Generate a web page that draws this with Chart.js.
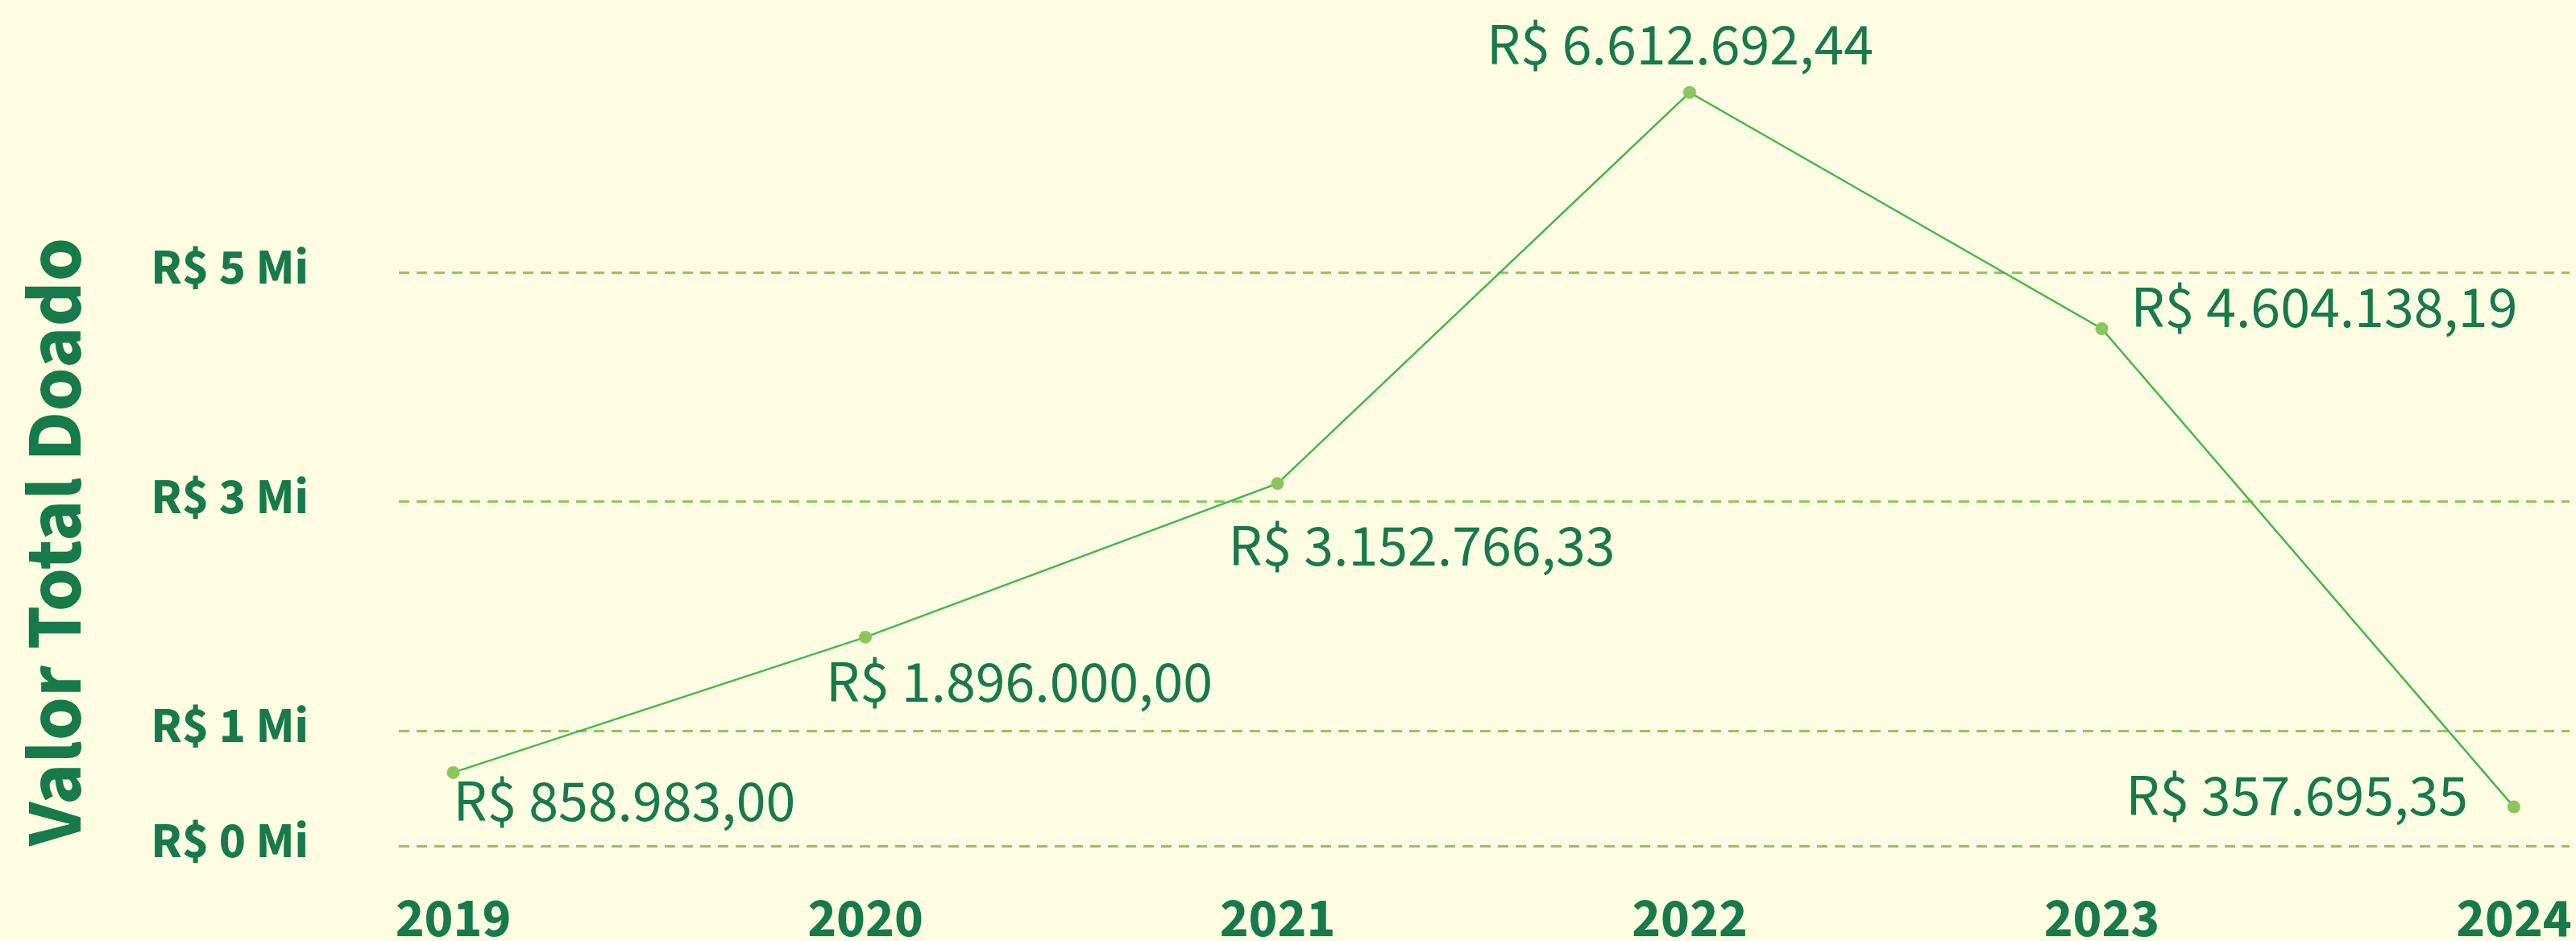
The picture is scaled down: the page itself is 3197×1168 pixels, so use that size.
<!DOCTYPE html>
<html lang="pt-BR">
<head>
<meta charset="utf-8">
<title>Valor Total Doado</title>
<script src="https://cdn.jsdelivr.net/npm/chart.js@4.4.1/dist/chart.umd.min.js"></script>
<style>
  html, body { margin: 0; padding: 0; background: #FEFDE4; }
  .chart-wrapper { width: 3197px; height: 1168px; position: relative; }
</style>
</head>
<body>
<div class="chart-wrapper"><canvas id="donationChart"></canvas></div>
<script>
"use strict";

// --- data ---
const years = [2019, 2020, 2021, 2022, 2023, 2024];
const donatedValues = [640000, 1820000, 3160000, 6570000, 4510000, 340000];
const valueLabels = [
    'R$ 858.983,00',
    'R$ 1.896.000,00',
    'R$ 3.152.766,33',
    'R$ 6.612.692,44',
    'R$ 4.604.138,19',
    'R$ 357.695,35'
];
const yTickValues = [0, 1000000, 3000000, 5000000];
const yTickLabels = ['R$ 0 Mi', 'R$ 1 Mi', 'R$ 3 Mi', 'R$ 5 Mi'];

// --- style ---
const FONT = "'Source Sans Pro', 'Source Sans 3', Lato, sans-serif";
const TEXT_COLOR = '#177A4B';
const LINE_COLOR = '#3DBB4B';
const POINT_COLOR = '#8BC65A';
const GRID_COLOR = '#8DC85C';

// where each value label sits relative to its point (px)
const labelPlacement = [
    { align: 'left', dx: 0, dy: 44 },
    { align: 'left', dx: -49, dy: 64 },
    { align: 'left', dx: -61, dy: 86 },
    { align: 'center', dx: -12, dy: -51 },
    { align: 'left', dx: 36, dy: -18 },
    { align: 'right', dx: -57, dy: -6 }
];

const valueLabelPlugin = {
    id: 'valueLabels',
    afterDatasetsDraw(chart) {
        const ctx = chart.ctx;
        const meta = chart.getDatasetMeta(0);
        ctx.save();
        ctx.font = `400 74px ${FONT}`;
        ctx.fillStyle = TEXT_COLOR;
        ctx.textBaseline = 'middle';
        meta.data.forEach((point, i) => {
            const place = labelPlacement[i];
            ctx.textAlign = place.align;
            ctx.fillText(valueLabels[i], point.x + place.dx, point.y + place.dy);
        });
        ctx.restore();
    }
};

const ctx = document.getElementById('donationChart').getContext('2d');

new Chart(ctx, {
    type: 'line',
    data: {
        datasets: [{
            label: 'Valor Total Doado',
            data: years.map((year, i) => ({ x: year, y: donatedValues[i] })),
            borderColor: LINE_COLOR,
            borderWidth: 2.5,
            tension: 0,
            pointRadius: 8,
            pointBackgroundColor: POINT_COLOR,
            pointBorderColor: POINT_COLOR,
            pointBorderWidth: 0,
            fill: false
        }]
    },
    options: {
        responsive: true,
        maintainAspectRatio: false,
        animation: false,
        layout: { padding: 0 },
        plugins: {
            legend: { display: false },
            tooltip: { enabled: false }
        },
        scales: {
            x: {
                type: 'linear',
                min: 2018.868,
                max: 2024.135,
                grid: { display: false, drawTicks: false },
                border: { display: false },
                afterBuildTicks: (scale) => {
                    scale.ticks = years.map(year => ({ value: year }));
                },
                afterFit: (scale) => {
                    scale.height = 118;
                    // labels fit inside, no extra side padding needed
                    scale.paddingLeft = 0;
                    scale.paddingRight = 0;
                },
                ticks: {
                    color: TEXT_COLOR,
                    font: { family: FONT, size: 68, weight: 'bold' },
                    padding: 56,
                    maxRotation: 0,
                    callback: (value) => String(value)
                }
            },
            y: {
                min: 0,
                max: 7320000,
                grid: { color: GRID_COLOR, lineWidth: 3, drawTicks: false },
                border: { display: false, dash: [13, 9] },
                afterBuildTicks: (scale) => {
                    scale.ticks = yTickValues.map(v => ({ value: v }));
                },
                afterFit: (scale) => {
                    scale.width = 495;
                    // tick padding would otherwise be added above/below the chart area
                    scale.paddingTop = 0;
                    scale.paddingBottom = 0;
                },
                ticks: {
                    color: TEXT_COLOR,
                    font: { family: FONT, size: 63, weight: 'bold' },
                    padding: 112,
                    callback: (value) => yTickLabels[yTickValues.indexOf(value)]
                },
                title: {
                    display: true,
                    text: 'Valor Total Doado',
                    align: 'start',
                    color: TEXT_COLOR,
                    font: { family: FONT, size: 98, weight: 'bold' },
                    padding: { top: 20, bottom: 0 }
                }
            }
        }
    },
    plugins: [valueLabelPlugin]
});
</script>
</body>
</html>
